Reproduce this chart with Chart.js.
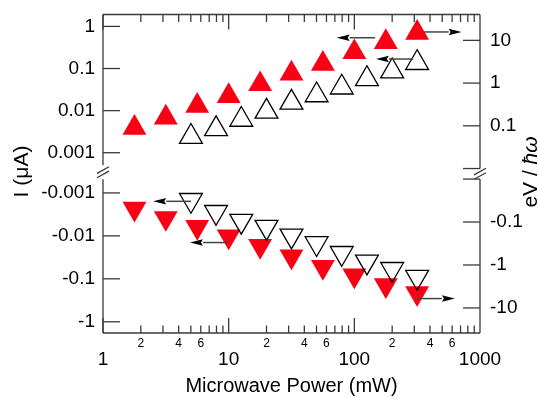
<!DOCTYPE html>
<html>
<head>
<meta charset="utf-8">
<script src="https://cdn.jsdelivr.net/npm/chart.js@4.4.1/dist/chart.umd.min.js"></script>
<style>
  html, body { margin: 0; padding: 0; background: #fff; }
  canvas { display: block; }
</style>
</head>
<body>
<canvas id="powerChart" width="538" height="398"></canvas>
<script>
// microwave power (mW)
const powerRed = [1.78, 3.16, 5.62, 10, 17.8, 31.6, 56.2, 100, 178, 316];
const powerOpen = [5.01, 7.94, 12.6, 20, 31.6, 50.1, 79.4, 126, 200, 316];

// current (uA)
const currentRedUp = [0.0039, 0.0068, 0.013, 0.0221, 0.0424, 0.076, 0.129, 0.244, 0.423, 0.703];
const currentOpenUp = [0.0024, 0.00365, 0.0061, 0.0095, 0.0155, 0.0233, 0.0356, 0.0565, 0.0863, 0.136];
const currentRedDown = [-0.00232, -0.00385, -0.0062, -0.0103, -0.0172, -0.03, -0.0527, -0.0834, -0.141, -0.215];
const currentOpenDown = [-0.00147, -0.0028, -0.0045, -0.0062, -0.0099, -0.0149, -0.0252, -0.0399, -0.0593, -0.0907];

// tick labels
const xMajorTicks = [1, 10, 100, 1000];
const xMinorLabels = [2, 4, 6, 20, 40, 60, 200, 400, 600];
const leftTicks = [0.001, 0.01, 0.1, 1];
const rightTicks = [0.1, 1, 10];
const rightMarks = [0.01, 0.1, 1, 10];

// arrows: tail, head, level (negative = lower panel)
const arrowFrom = [146, 358, 294, 5.01, 9.82, 319];
const arrowTo = [72.3, 714, 148.5, 2.51, 4.92, 631];
const arrowLevel = [0.538, 0.739, 0.168, -0.00157, -0.0143, -0.288];

const RED = "rgb(250, 0, 20)";
const INK = "#3a3a3a";
const FONT = '"Liberation Sans", Arial, sans-serif';

Chart.defaults.font.family = FONT;

const pts = (xs, ys) => xs.map((x, i) => ({ x: x, y: Math.abs(ys[i]) }));

function yAxis(position, weight, stackWeight, min, max, reverse, vals, sign) {
    return {
        type: "logarithmic",
        position: position,
        stack: "panels",
        stackWeight: stackWeight,
        weight: weight,
        min: min,
        max: max,
        reverse: reverse,
        grid: { display: false, drawTicks: false },
        border: { display: false },
        ticks: {
            color: "#000",
            font: { size: 19 },
            padding: position === "left" ? 8 : 10,
            autoSkip: false,
            callback: (v) => sign + v,
        },
        afterBuildTicks: (s) => { s.ticks = vals.map((v) => ({ value: v })); },
        afterFit: (s) => {
            s.width = position === "left" ? 103 : 58;
            s.paddingTop = 0;
            s.paddingBottom = 0;
        },
    };
}

function xAxis(weight, vals, size, padding, height, label) {
    return {
        type: "logarithmic",
        position: "bottom",
        weight: weight,
        min: 1,
        max: 1000,
        grid: { display: false, drawTicks: false },
        border: { display: false },
        ticks: {
            color: "#000",
            font: { size: size },
            padding: padding,
            autoSkip: false,
            maxRotation: 0,
            minRotation: 0,
            callback: label,
        },
        afterBuildTicks: (s) => { s.ticks = vals.map((v) => ({ value: v })); },
        afterFit: (s) => {
            s.height = height;
            s.paddingLeft = 0;
            s.paddingRight = 0;
        },
    };
}

function arrow(ctx, x1, x2, y) {
    const dir = Math.sign(x2 - x1);
    const head = 13;
    ctx.strokeStyle = "#444";
    ctx.lineWidth = 1.5;
    ctx.beginPath();
    ctx.moveTo(x1, y);
    ctx.lineTo(x2 - dir * head, y);
    ctx.stroke();
    ctx.fillStyle = "#000";
    ctx.beginPath();
    ctx.moveTo(x2, y);
    ctx.lineTo(x2 - dir * head, y - 3.3);
    ctx.lineTo(x2 - dir * (head - 2), y);
    ctx.lineTo(x2 - dir * head, y + 3.3);
    ctx.closePath();
    ctx.fill();
}

const framePlugin = {
    id: "frame",
    beforeDatasetsDraw(chart) {
        const { ctx, chartArea: a, scales } = chart;
        const { x, yTop, yBot, rTop, rBot } = scales;
        const seg = (x1, y1, x2, y2) => {
            ctx.beginPath();
            ctx.moveTo(x1, y1);
            ctx.lineTo(x2, y2);
            ctx.stroke();
        };
        ctx.save();
        ctx.strokeStyle = INK;
        ctx.lineWidth = 1.3;
        seg(a.left, a.top, a.right, a.top);
        seg(a.left, a.bottom, a.right, a.bottom);

        // split axes with break marks
        const split = yTop.bottom;
        const lGap = [split - 9.5, split + 4.5];
        const rGap = [rTop.getPixelForValue(0.01), rBot.getPixelForValue(0.01)];
        seg(a.left, a.top, a.left, lGap[0]);
        seg(a.left, lGap[1], a.left, a.bottom);
        seg(a.right, a.top, a.right, rGap[0]);
        seg(a.right, rGap[1], a.right, a.bottom);
        [[a.left, (lGap[0] + lGap[1]) / 2], [a.right, (rGap[0] + rGap[1]) / 2]].forEach(([bx, by]) => {
            [-2.2, 2.2].forEach((off) => seg(bx - 6, by + off + 3.3, bx + 6, by + off - 3.3));
        });

        // inward ticks
        for (let d = 1; d < 1000; d *= 10) {
            for (let k = 1; k < 10; k++) {
                const px = x.getPixelForValue(k * d);
                const len = k === 1 ? 15 : 7.5;
                seg(px, a.bottom, px, a.bottom - len);
                seg(px, a.top, px, a.top + len);
            }
        }
        leftTicks.forEach((v) => {
            const p1 = yTop.getPixelForValue(v);
            const p2 = yBot.getPixelForValue(v);
            seg(a.left, p1, a.left + 17, p1);
            seg(a.left, p2, a.left + 17, p2);
        });
        rightMarks.forEach((v) => {
            const p1 = rTop.getPixelForValue(v);
            const p2 = rBot.getPixelForValue(v);
            seg(a.right - 17, p1, a.right, p1);
            seg(a.right - 17, p2, a.right, p2);
        });
        ctx.restore();
    },
    afterDatasetsDraw(chart) {
        const { ctx, scales } = chart;
        ctx.save();
        arrowLevel.forEach((lv, i) => {
            const ys = lv > 0 ? scales.yTop : scales.yBot;
            arrow(ctx, scales.x.getPixelForValue(arrowFrom[i]), scales.x.getPixelForValue(arrowTo[i]),
                ys.getPixelForValue(Math.abs(lv)));
        });
        ctx.restore();
    },
    afterDraw(chart) {
        const { ctx, chartArea: a } = chart;
        ctx.save();
        ctx.fillStyle = "#000";
        ctx.textBaseline = "alphabetic";
        ctx.textAlign = "center";
        ctx.font = "20px " + FONT;
        ctx.fillText("Microwave Power (mW)", (a.left + a.right) / 2, 391.5);

        ctx.font = "21px " + FONT;
        ctx.translate(28, 171.5);
        ctx.rotate(-Math.PI / 2);
        ctx.fillText("I (\u03bcA)", 0, 0);
        ctx.restore();

        ctx.save();
        ctx.fillStyle = "#000";
        ctx.textBaseline = "alphabetic";
        ctx.translate(537, 172);
        ctx.rotate(-Math.PI / 2);
        const upright = "21px " + FONT;
        const slanted = "italic 21px " + FONT;
        ctx.font = upright;
        const w1 = ctx.measureText("eV / ").width;
        ctx.font = slanted;
        const w2 = ctx.measureText("\u0127\u03c9").width;
        ctx.font = upright;
        ctx.fillText("eV / ", -(w1 + w2) / 2, 0);
        ctx.font = slanted;
        ctx.fillText("\u0127\u03c9", -(w1 + w2) / 2 + w1, 0);
        ctx.restore();
    },
};

const ctx = document.getElementById("powerChart").getContext("2d");

const chart = new Chart(ctx, {
    type: "scatter",
    data: {
        datasets: [
            {
                data: pts(powerOpen, currentOpenDown),
                yAxisID: "yBot",
                pointStyle: "triangle",
                rotation: 180,
                pointRadius: 13.2,
                backgroundColor: "rgba(0, 0, 0, 0)",
                borderColor: "#000",
                borderWidth: 1.3,
            },
            {
                data: pts(powerOpen, currentOpenUp),
                yAxisID: "yTop",
                pointStyle: "triangle",
                pointRadius: 13.2,
                backgroundColor: "rgba(0, 0, 0, 0)",
                borderColor: "#000",
                borderWidth: 1.3,
            },
            {
                data: pts(powerRed, currentRedDown),
                yAxisID: "yBot",
                pointStyle: "triangle",
                rotation: 180,
                pointRadius: 13.8,
                backgroundColor: RED,
                borderWidth: 0,
            },
            {
                data: pts(powerRed, currentRedUp),
                yAxisID: "yTop",
                pointStyle: "triangle",
                pointRadius: 13.8,
                backgroundColor: RED,
                borderWidth: 0,
            },
        ],
    },
    options: {
        responsive: false,
        animation: false,
        devicePixelRatio: 1,
        layout: { padding: { top: 9, left: 0, right: 0, bottom: 0 } },
        plugins: { legend: { display: false }, tooltip: { enabled: false } },
        scales: {
            x: xAxis(1, xMinorLabels, 12, 3, 15, (v) => String(v)[0]),
            x2: xAxis(2, xMajorTicks, 19, 0, 50, (v) => String(v)),
            yTop: yAxis("left", 2, 163, 3.41e-4, 1.919, false, leftTicks, ""),
            yBot: yAxis("left", 1, 161, 3.776e-4, 1.824, true, leftTicks, "-"),
            rTop: yAxis("right", 1, 163, 7.16e-3, 40.3, false, rightTicks, ""),
            rBot: yAxis("right", 2, 161, 7.93e-3, 38.3, true, rightTicks, "-"),
        },
    },
    plugins: [framePlugin],
});
</script>
</body>
</html>
